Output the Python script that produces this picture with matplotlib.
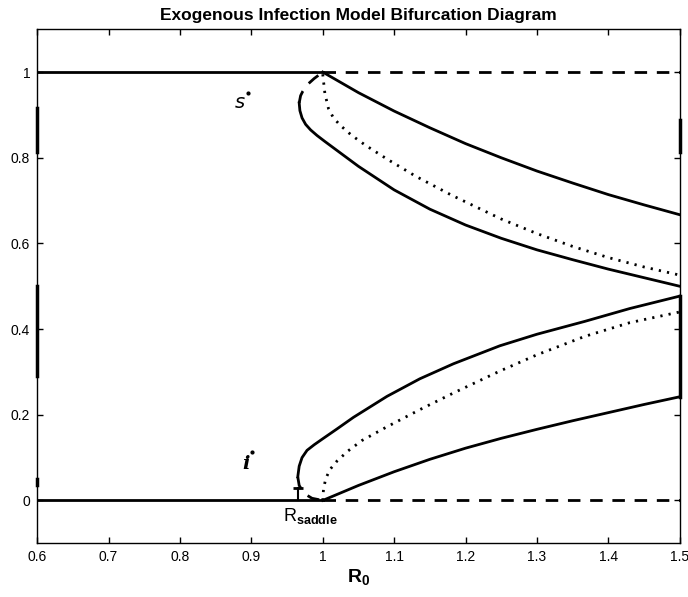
import numpy as np
import matplotlib.pyplot as plt

plt.rcParams['font.family'] = ['Liberation Sans', 'DejaVu Sans']
plt.rcParams['mathtext.fontset'] = 'custom'
plt.rcParams['mathtext.rm'] = 'Liberation Sans'
plt.rcParams['mathtext.bf'] = 'Liberation Sans:bold'

# disease-free equilibrium (s=1, i=0): stable below R0=1, unstable above
dfe_stable_R = [0.6, 1.0]
dfe_unstable_R = [1.0, 1.5]

# endemic branch s*, stable (upper) part
s_hi_R = [1.0, 1.05, 1.1, 1.15, 1.2, 1.25, 1.3, 1.35, 1.4, 1.45, 1.5]
s_hi = [1.0, 0.952, 0.909, 0.870, 0.833, 0.800, 0.769, 0.741, 0.714, 0.690, 0.667]

# s* branch born at the saddle-node: unstable part up to R0=1
s_sn_unst_R = [0.967, 0.969, 0.972, 0.978, 0.988, 1.0]
s_sn_unst = [0.928, 0.945, 0.955, 0.970, 0.985, 1.0]
# ... and stable part below it
s_sn_st_R = [0.967, 0.968, 0.971, 0.976, 0.983, 0.992, 1.003, 1.02, 1.05,
             1.1, 1.15, 1.2, 1.25, 1.3, 1.35, 1.4, 1.45, 1.5]
s_sn_st = [0.928, 0.910, 0.893, 0.878, 0.865, 0.852, 0.838, 0.817, 0.780,
           0.725, 0.680, 0.643, 0.612, 0.585, 0.562, 0.540, 0.520, 0.500]

# s* for the comparison case (dotted)
s_dot_R = [1.0, 1.003, 1.008, 1.015, 1.025, 1.04, 1.06, 1.09, 1.13, 1.18,
           1.25, 1.3, 1.35, 1.4, 1.45, 1.5]
s_dot = [0.995, 0.950, 0.915, 0.893, 0.875, 0.853, 0.829, 0.797, 0.757, 0.713,
         0.657, 0.623, 0.593, 0.567, 0.545, 0.526]

# i* branch born at the saddle-node: stable upper part
i_sn_st_R = [0.965, 0.967, 0.971, 0.978, 0.988, 1.0, 1.02, 1.043, 1.09, 1.136,
             1.183, 1.248, 1.3, 1.367, 1.43, 1.5]
i_sn_st = [0.055, 0.080, 0.100, 0.117, 0.130, 0.144, 0.167, 0.194, 0.243, 0.284,
           0.319, 0.361, 0.388, 0.418, 0.448, 0.477]
# ... and unstable part down to i=0 at R0=1
i_sn_unst_R = [0.965, 0.967, 0.974, 0.985, 1.0]
i_sn_unst = [0.055, 0.035, 0.016, 0.005, 0.0]

# i* of the endemic branch leaving the DFE at R0=1
i_lo_R = [1.0, 1.05, 1.1, 1.15, 1.2, 1.25, 1.3, 1.35, 1.4, 1.45, 1.5]
i_lo = [0.0, 0.035, 0.067, 0.096, 0.122, 0.145, 0.166, 0.186, 0.205, 0.224, 0.242]

# i* for the comparison case (dotted)
i_dot_R = [1.0, 1.001, 1.004, 1.01, 1.02, 1.035, 1.055, 1.09, 1.136, 1.182,
           1.248, 1.3, 1.367, 1.43, 1.5]
i_dot = [0.0, 0.025, 0.050, 0.072, 0.092, 0.115, 0.140, 0.172, 0.212, 0.250,
         0.302, 0.340, 0.383, 0.415, 0.440]

R_saddle = 0.966

xticks = [0.6, 0.7, 0.8, 0.9, 1.0, 1.1, 1.2, 1.3, 1.4, 1.5]
xticklabels = ['0.6', '0.7', '0.8', '0.9', '1', '1.1', '1.2', '1.3', '1.4', '1.5']
yticks = [0, 0.2, 0.4, 0.6, 0.8, 1.0]
yticklabels = ['0', '0.2', '0.4', '0.6', '0.8', '1']

fig = plt.figure(figsize=(6.88, 5.97), dpi=100)
ax = fig.add_axes([0.054, 0.090, 0.934, 0.861])

lw = 2.0
dash = (0, (4.5, 3.5))
dot = (0, (0.8, 2.2))

ax.plot(dfe_stable_R, [1, 1], 'k-', lw=lw)
ax.plot(dfe_stable_R, [0, 0], 'k-', lw=lw)
ax.plot(dfe_unstable_R, [1, 1], 'k', ls=dash, lw=lw)
ax.plot(dfe_unstable_R, [0, 0], 'k', ls=dash, lw=lw)

ax.plot(s_hi_R, s_hi, 'k-', lw=lw)
ax.plot(s_sn_st_R, s_sn_st, 'k-', lw=lw)
ax.plot(s_sn_unst_R, s_sn_unst, 'k', ls=dash, lw=lw)
ax.plot(s_dot_R, s_dot, 'k', ls=dot, lw=lw)

ax.plot(i_sn_st_R, i_sn_st, 'k-', lw=lw)
ax.plot(i_sn_unst_R, i_sn_unst, 'k', ls=dash, lw=lw)
ax.plot(i_lo_R, i_lo, 'k-', lw=lw)
ax.plot(i_dot_R, i_dot, 'k', ls=dot, lw=lw)

# saddle-node marker on the i=0 axis
ax.plot([R_saddle, R_saddle], [0, 0.028], 'k-', lw=1.5)
ax.plot(R_saddle, 0.028, 'k', marker='_', ms=7, mew=2)

# heavy marks along the frame
ax.plot([1.5, 1.5], [i_lo[-1], i_sn_st[-1]], 'k-', lw=2.5, clip_on=False)
ax.plot([1.5, 1.5], [0.814, 0.888], 'k-', lw=2.5, clip_on=False)
ax.plot([0.6, 0.6], [0.29, 0.50], 'k-', lw=2.5, clip_on=False)
ax.plot([0.6, 0.6], [0.814, 0.916], 'k-', lw=2.5, clip_on=False)
ax.plot([0.6, 0.6], [0.035, 0.05], 'k-', lw=2.5, clip_on=False)

ax.text(0.884, 0.928, r'$s$', fontsize=14, ha='center', va='center',
        family='DejaVu Serif', fontweight='bold')
ax.plot(0.895, 0.952, 'k.', ms=4)
ax.text(0.892, 0.084, 'i', fontsize=14, ha='center', va='center',
        family='DejaVu Serif', style='italic', fontweight='bold')
ax.plot(0.901, 0.112, 'k.', ms=4)
ax.text(0.944, -0.036, r'$\mathrm{R}_{\mathbf{saddle}}$',
        fontsize=13, ha='left', va='center')

ax.set_xlim(0.6, 1.5)
ax.set_ylim(-0.1, 1.1)
ax.set_xticks(xticks)
ax.set_xticklabels(xticklabels)
ax.set_yticks(yticks)
ax.set_yticklabels(yticklabels)
ax.tick_params(direction='in', length=4, width=1, top=True, right=True,
               labelsize=10, pad=5)
for sp in ax.spines.values():
    sp.set_linewidth(1.0)

ax.set_xlabel(r'$\mathbf{R_0}$', fontsize=14, labelpad=2)
ax.set_title('Exogenous Infection Model Bifurcation Diagram',
             fontsize=12.5, fontweight='bold', pad=7)

fig.savefig('out.png', dpi=100)
